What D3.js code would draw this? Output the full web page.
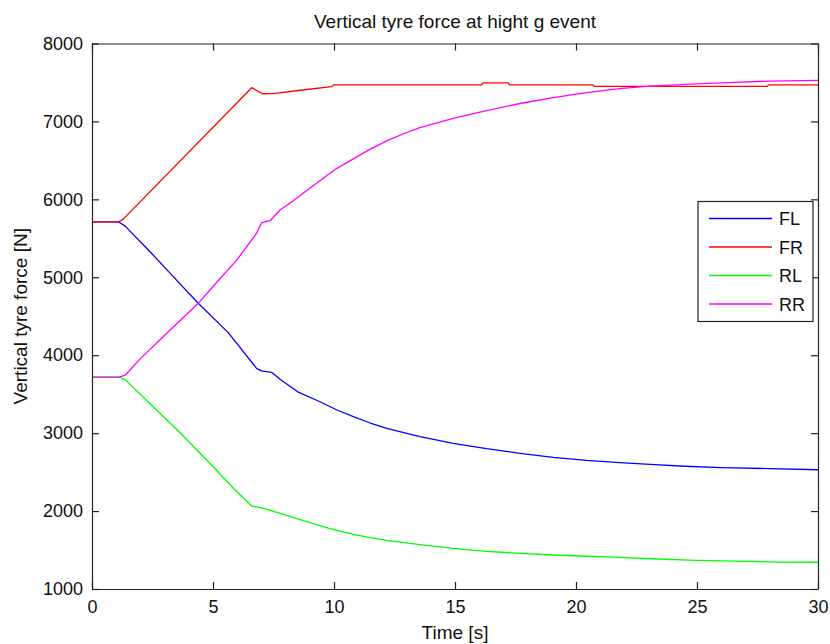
<!DOCTYPE html>
<html>
<head>
<meta charset="utf-8">
<script src="https://cdn.jsdelivr.net/npm/d3@7"></script>
<style>
  body { margin: 0; background: #fff; }
  svg { display: block; }
  text { font-family: "Liberation Sans", Arial, sans-serif; fill: #111; }
</style>
</head>
<body>
<svg id="chart" width="830" height="644"></svg>
<script>
// ---- Data ----
const seriesNames = ["FL", "FR", "RL", "RR"];
const seriesColors = ["#0000ff", "#ff0000", "#00ff00", "#ff00ff"];

const flTime = [0, 1.1, 1.36, 2.4, 3.3, 4.39, 5.63, 6.8, 7.0, 7.42, 7.77, 8.5, 9.42, 10.1, 10.8, 11.5, 12.18, 13.55, 14.93, 16.3, 17.69, 19.06, 20.44, 21.8, 23.06, 24.5, 26, 28, 30];
const flValues = [5710, 5710, 5660, 5328, 5028, 4666, 4290, 3832, 3800, 3781, 3691, 3530, 3403, 3300, 3211, 3130, 3062, 2955, 2870, 2800, 2741, 2690, 2650, 2621, 2598, 2575, 2557, 2545, 2530];

const frTime = [0, 1.1, 1.3, 6.6, 7.05, 7.6, 8.6, 9.9, 10.0, 16.1, 16.15, 17.2, 17.25, 20.7, 20.75, 27.9, 27.95, 30];
const frValues = [5710, 5710, 5750, 7433, 7355, 7360, 7400, 7446, 7470, 7470, 7495, 7495, 7470, 7470, 7450, 7450, 7470, 7470];

const rlTime = [0, 1.1, 1.36, 2.4, 3.64, 5.01, 5.84, 6.6, 7.09, 7.77, 8.87, 9.83, 10.8, 11.5, 12.18, 13.55, 14.93, 16.3, 17.69, 19.06, 20.44, 21.8, 23.06, 25, 28.4, 30];
const rlValues = [3720, 3720, 3690, 3378, 3006, 2569, 2292, 2065, 2035, 1971, 1864, 1775, 1700, 1658, 1625, 1569, 1520, 1482, 1458, 1436, 1420, 1405, 1388, 1368, 1346, 1343];

const rrTime = [0, 1.1, 1.36, 1.98, 3.09, 4.39, 5.01, 5.98, 6.8, 7.01, 7.36, 7.77, 8.32, 8.9, 9.42, 10.1, 10.8, 11.5, 12.18, 12.9, 13.55, 14.93, 16.3, 17.69, 19.06, 20.44, 21.8, 23.06, 24.5, 26, 28, 30];
const rrValues = [3720, 3720, 3740, 3950, 4281, 4666, 4885, 5220, 5564, 5700, 5726, 5863, 5982, 6120, 6240, 6395, 6520, 6645, 6750, 6845, 6920, 7040, 7140, 7230, 7305, 7370, 7420, 7454, 7475, 7495, 7518, 7528];

const xTicks = [0, 5, 10, 15, 20, 25, 30];
const yTicks = [1000, 2000, 3000, 4000, 5000, 6000, 7000, 8000];

const titleText = "Vertical tyre force at hight g event";
const xLabel = "Time [s]";
const yLabel = "Vertical tyre force [N]";

// ---- Layout ----
const svg = d3.select("#chart");
const plotLeft = 92, plotRight = 818, plotTop = 43.5, plotBottom = 589;
const x = d3.scaleLinear().domain([0, 30]).range([plotLeft, plotRight]);
const y = d3.scaleLinear().domain([1000, 8000]).range([plotBottom, plotTop]);
const axisColor = "#222";
const tickLen = 7;

const times = [flTime, frTime, rlTime, rrTime];
const values = [flValues, frValues, rlValues, rrValues];
const series = seriesNames.map((name, i) => ({
  name, color: seriesColors[i],
  pts: times[i].map((t, j) => [t, values[i][j]])
}));

// Lines
const line = d3.line().x(d => x(d[0])).y(d => y(d[1]));
svg.append("g").selectAll("path").data(series).join("path")
  .attr("d", d => line(d.pts))
  .attr("fill", "none")
  .attr("stroke", d => d.color)
  .attr("stroke-width", 1.3)
  .attr("stroke-linejoin", "round");

// Axes (box with inward ticks)
function styleAxis(g) {
  g.select(".domain").attr("stroke", axisColor).attr("stroke-width", 1.2);
  g.selectAll(".tick line").attr("stroke", axisColor).attr("stroke-width", 1.2);
  g.selectAll(".tick text").attr("fill", "#111")
    .style("font-family", "'Liberation Sans', Arial, sans-serif")
    .style("font-size", "18px");
}

svg.append("g").attr("transform", `translate(0,${plotBottom})`)
  .call(d3.axisBottom(x).tickValues(xTicks).tickSizeInner(-tickLen).tickSizeOuter(0).tickPadding(11).tickFormat(d3.format("d")))
  .call(styleAxis);
svg.append("g").attr("transform", `translate(0,${plotTop})`)
  .call(d3.axisTop(x).tickValues(xTicks).tickSizeInner(-tickLen).tickSizeOuter(0).tickFormat(""))
  .call(styleAxis);
svg.append("g").attr("transform", `translate(${plotLeft},0)`)
  .call(d3.axisLeft(y).tickValues(yTicks).tickSizeInner(-tickLen).tickSizeOuter(0).tickPadding(9).tickFormat(d3.format("d")))
  .call(styleAxis);
svg.append("g").attr("transform", `translate(${plotRight},0)`)
  .call(d3.axisRight(y).tickValues(yTicks).tickSizeInner(-tickLen).tickSizeOuter(0).tickFormat(""))
  .call(styleAxis);

// Title and labels
svg.append("text").attr("x", (plotLeft + plotRight) / 2).attr("y", 28)
  .attr("text-anchor", "middle").style("font-size", "19px").text(titleText);
svg.append("text").attr("x", (plotLeft + plotRight) / 2).attr("y", 639)
  .attr("text-anchor", "middle").style("font-size", "19px").text(xLabel);
svg.append("text").attr("transform", `translate(27,${(plotTop + plotBottom) / 2}) rotate(-90)`)
  .attr("text-anchor", "middle").style("font-size", "19px").text(yLabel);

// Legend
const lg = svg.append("g");
lg.append("rect").attr("x", 698).attr("y", 201.5).attr("width", 115).attr("height", 120)
  .attr("fill", "#fff").attr("stroke", axisColor).attr("stroke-width", 1.2);
const rows = lg.selectAll("g.row").data(series).join("g")
  .attr("transform", (d, i) => `translate(0,${218.5 + i * 28.5})`);
rows.append("line").attr("x1", 709).attr("x2", 772).attr("y1", 0).attr("y2", 0)
  .attr("stroke", d => d.color).attr("stroke-width", 1.3);
rows.append("text").attr("x", 779).attr("y", 6.5).style("font-size", "18px").text(d => d.name);
</script>
</body>
</html>
